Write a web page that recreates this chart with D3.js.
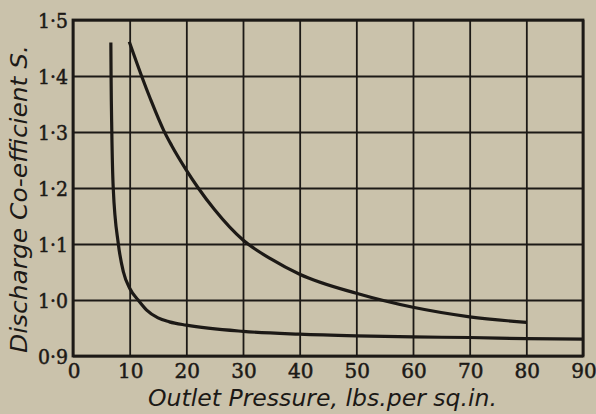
<!DOCTYPE html>
<html lang="en">
  <head>
    <meta charset="utf-8">
    <title>Discharge Co-efficient</title>
    <script src="https://d3js.org/d3.v7.min.js"></script>
    <style>
      body { margin: 0; background: #cac2ab; }
    </style>
  </head>
  <body>
    <div id="chart"></div>
    <script>

    // outlet pressure (lbs/sq.in) and coefficient S
    var pressureA = [6.68, 6.72, 6.85, 7.1, 8.0, 8.9, 10, 11.5, 13, 15, 17, 20, 30, 40, 50, 60, 70, 80, 90];
    var coeffA    = [1.46, 1.40, 1.30, 1.20, 1.10, 1.05, 1.021, 1.00, 0.982, 0.968, 0.961, 0.955, 0.944, 0.939, 0.936, 0.934, 0.933, 0.931, 0.930];

    var pressureB = [9.93, 12.1, 13.7, 16, 17.4, 20, 22.1, 25, 30, 35, 40, 50, 60, 70, 80];
    var coeffB    = [1.461, 1.40, 1.358, 1.303, 1.276, 1.232, 1.200, 1.161, 1.107, 1.073, 1.046, 1.012, 0.987, 0.970, 0.960];

    var xTicks = [0, 10, 20, 30, 40, 50, 60, 70, 80, 90];
    var yTicks = [0.9, 1.0, 1.1, 1.2, 1.3, 1.4, 1.5];

    var ink = "#1c1916";

    // page is 596 x 414, plot frame measured from the scan
    var margin = {top: 20, right: 13, bottom: 58, left: 73},
        width = 596 - margin.left - margin.right,
        height = 414 - margin.top - margin.bottom;

    var svg = d3.select("#chart")
      .append("svg")
        .attr("width", 596)
        .attr("height", 414)
      .append("g")
        .attr("transform", "translate(" + margin.left + "," + margin.top + ")");

    var x = d3.scaleLinear().domain([0, 90]).range([0, width]);
    var y = d3.scaleLinear().domain([0.9, 1.5]).range([height, 0]);

    // grid
    svg.append("g")
      .attr("class", "grid")
      .call(d3.axisBottom(x).tickValues(xTicks).tickSize(-height).tickFormat(""))
      .attr("transform", "translate(0," + height + ")")
      .call(function(g) { g.select(".domain").remove(); })
      .selectAll("line")
        .attr("stroke", ink)
        .attr("stroke-width", 1.8);

    svg.append("g")
      .attr("class", "grid")
      .call(d3.axisLeft(y).tickValues(yTicks).tickSize(-width).tickFormat(""))
      .call(function(g) { g.select(".domain").remove(); })
      .selectAll("line")
        .attr("stroke", ink)
        .attr("stroke-width", 1.8);

    // frame
    svg.append("rect")
      .attr("width", width)
      .attr("height", height)
      .attr("fill", "none")
      .attr("stroke", ink)
      .attr("stroke-width", 2.8);

    // tick labels
    var fmt = function(d) { return d.toFixed(1).replace(".", "\u00B7"); };

    svg.append("g")
      .selectAll("text")
      .data(yTicks)
      .enter()
      .append("text")
        .attr("x", -5)
        .attr("y", function(d) { return y(d); })
        .attr("dy", "0.4em")
        .attr("text-anchor", "end")
        .style("font", "20px 'DejaVu Serif', serif")
        .attr("textLength", 30)
        .attr("lengthAdjust", "spacingAndGlyphs")
        .style("fill", ink)
        .style("stroke", ink)
        .style("stroke-width", 0.5)
        .text(fmt);

    svg.append("g")
      .selectAll("text")
      .data(xTicks)
      .enter()
      .append("text")
        .attr("x", function(d) { return x(d) + 1; })
        .attr("y", height + 22)
        .attr("text-anchor", "middle")
        .style("font", "20px 'DejaVu Serif', serif")
        .style("fill", ink)
        .style("stroke", ink)
        .style("stroke-width", 0.5)
        .text(function(d) { return d; });

    // curves
    var line = d3.line()
      .x(function(d) { return x(d[0]); })
      .y(function(d) { return y(d[1]); })
      .curve(d3.curveMonotoneX);

    svg.append("path")
      .datum(d3.zip(pressureA, coeffA))
      .attr("d", line)
      .attr("fill", "none")
      .attr("stroke", ink)
      .attr("stroke-width", 3.2);

    svg.append("path")
      .datum(d3.zip(pressureB, coeffB))
      .attr("d", line)
      .attr("fill", "none")
      .attr("stroke", ink)
      .attr("stroke-width", 3.2);

    // axis titles
    svg.append("text")
      .attr("x", 148 - margin.left)
      .attr("y", height + 50)
      .attr("textLength", 349)
      .attr("lengthAdjust", "spacingAndGlyphs")
      .style("font", "italic 23px 'DejaVu Sans', sans-serif")
      .style("fill", ink)
      .text("Outlet Pressure, lbs.per sq.in.");

    svg.append("text")
      .attr("transform", "rotate(-90)")
      .attr("x", -(353 - margin.top))
      .attr("y", 27 - margin.left)
      .attr("textLength", 308)
      .attr("lengthAdjust", "spacingAndGlyphs")
      .style("font", "italic 23px 'DejaVu Sans', sans-serif")
      .style("fill", ink)
      .text("Discharge Co-efficient S.");

    </script>
  </body>
</html>
